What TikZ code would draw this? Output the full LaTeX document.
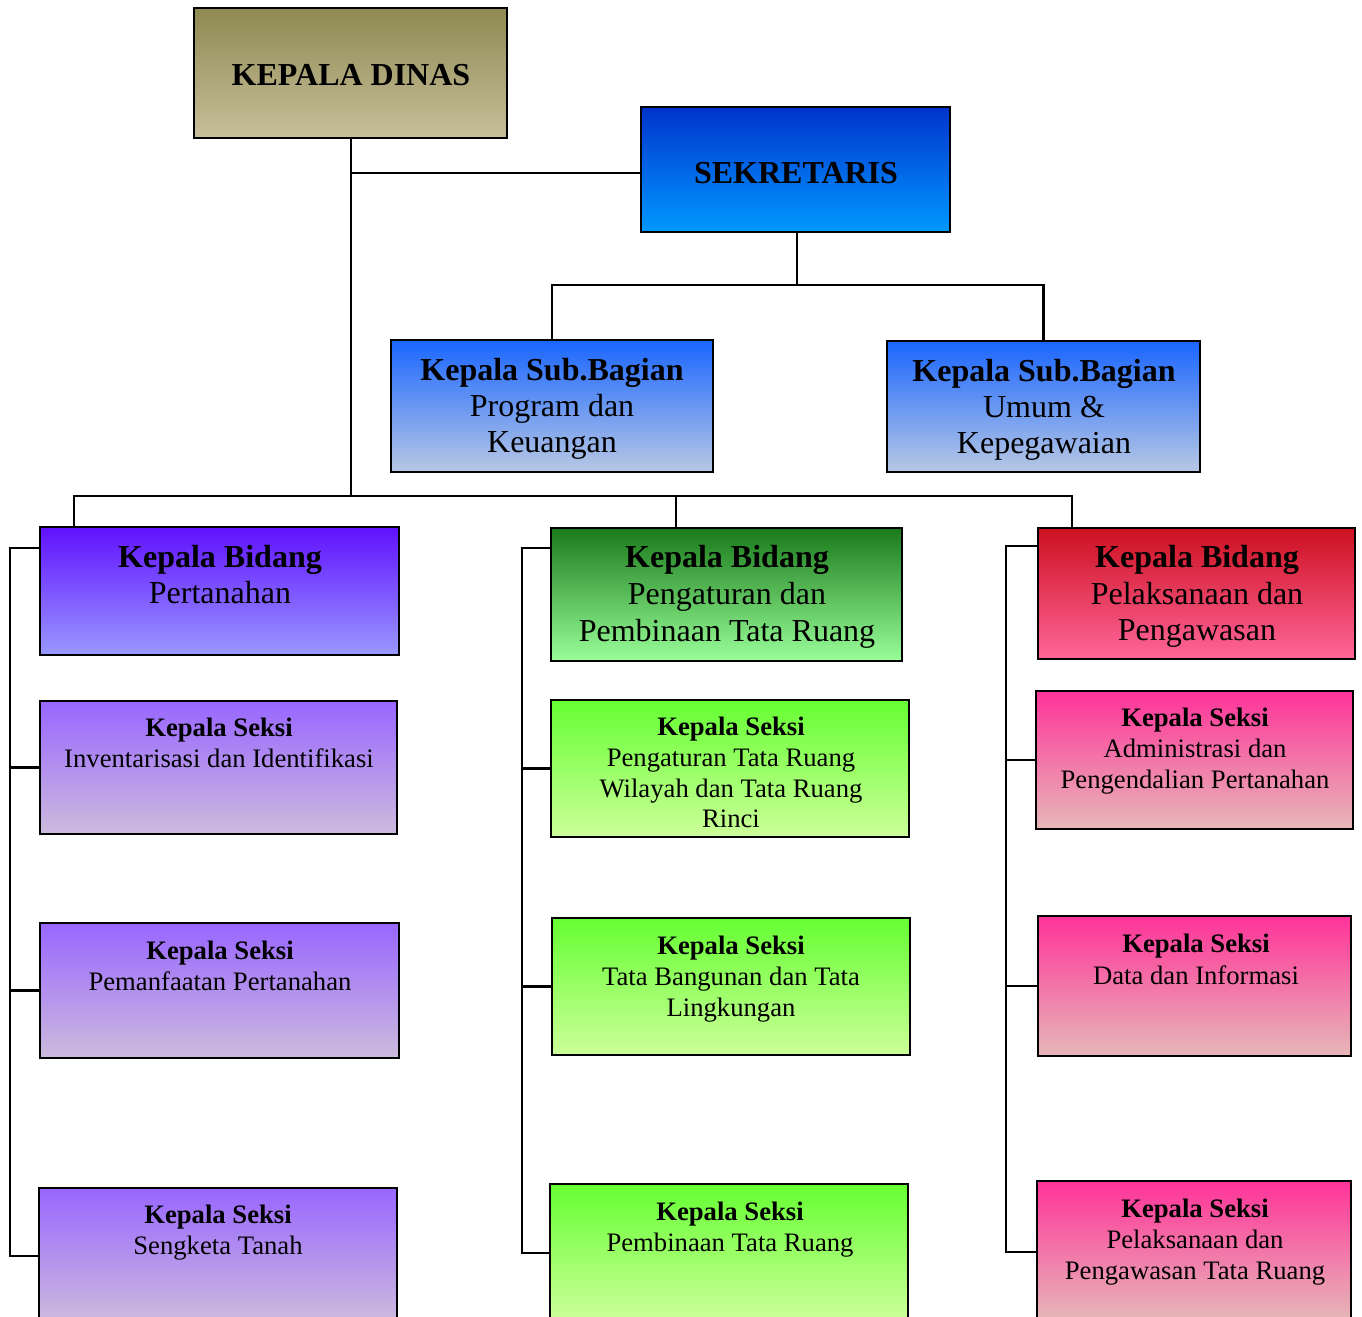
\documentclass[tikz,border=0pt]{standalone}
\usepackage{fontspec}
\setmainfont{Liberation Serif}
\usetikzlibrary{fit}
\definecolor{kdTop}{RGB}{143,137,82}
\definecolor{kdBot}{RGB}{199,191,154}
\definecolor{sekTop}{RGB}{0,51,204}
\definecolor{sekBot}{RGB}{0,153,255}
\definecolor{sbTop}{RGB}{26,102,255}
\definecolor{sbBot}{RGB}{184,200,228}
\definecolor{bATop}{RGB}{96,17,255}
\definecolor{bABot}{RGB}{153,153,255}
\definecolor{bBTop}{RGB}{26,122,26}
\definecolor{bBBot}{RGB}{153,255,153}
\definecolor{bCTop}{RGB}{204,16,32}
\definecolor{bCBot}{RGB}{255,102,153}
\definecolor{sATop}{RGB}{153,102,255}
\definecolor{sABot}{RGB}{204,187,221}
\definecolor{sBTop}{RGB}{102,255,51}
\definecolor{sBBot}{RGB}{204,255,153}
\definecolor{sCTop}{RGB}{255,51,153}
\definecolor{sCBot}{RGB}{230,184,184}
\tikzset{
  orgboxstyle/.style={draw=black, line width=1.6pt, inner sep=0pt, shading=axis},
  conn/.style={draw=black, line width=1.7pt},
  hd/.style={font=\fontsize{24}{28}\selectfont\bfseries, anchor=base, inner sep=0pt},
  tx/.style={font=\fontsize{24}{28}\selectfont, anchor=base, inner sep=0pt},
  shd/.style={font=\fontsize{20}{24}\selectfont\bfseries, anchor=base, inner sep=0pt},
  stx/.style={font=\fontsize{20}{24}\selectfont, anchor=base, inner sep=0pt},
}
\newcommand\orgbox[6]{%
  \coordinate (#1-nw) at (#2,#3);
  \coordinate (#1-se) at (#4,#5);
  \node[orgboxstyle, top color=#6Top, bottom color=#6Bot, fit=(#1-nw)(#1-se)] (#1) {};
}
\begin{document}
\begin{tikzpicture}[x=0.75pt,y=-0.75pt]
\useasboundingbox (0,0) rectangle (1362,1316);
\clip (0,0) rectangle (1362,1316);
\fill[white] (0,0) rectangle (1362,1316);

% boxes
\orgbox{kd}{194}{8}{507}{138}{kd}
\orgbox{sek}{641}{107}{950}{232}{sek}
\orgbox{sbA}{391}{340}{713}{472}{sb}
\orgbox{sbB}{887}{341}{1200}{472}{sb}
\orgbox{bA}{40}{527}{399}{655}{bA}
\orgbox{bB}{551}{528}{902}{661}{bB}
\orgbox{bC}{1038}{528}{1355}{659}{bC}
\orgbox{sAa}{40}{701}{397}{834}{sA}
\orgbox{sAb}{40}{923}{399}{1058}{sA}
\orgbox{sAc}{39}{1188}{397}{1322}{sA}
\orgbox{sBa}{551}{700}{909}{837}{sB}
\orgbox{sBb}{552}{918}{910}{1055}{sB}
\orgbox{sBc}{550}{1184}{908}{1320}{sB}
\orgbox{sCa}{1036}{691}{1353}{829}{sC}
\orgbox{sCb}{1038}{916}{1351}{1056}{sC}
\orgbox{sCc}{1037}{1181}{1351}{1320}{sC}

% connectors
\coordinate (jA) at (351,496);
\coordinate (jK) at (351,173);
\coordinate (jS) at (797,285);
\coordinate (bL) at (74,496);
\coordinate (bM) at (676,496);
\coordinate (bR) at (1072,496);
\draw[conn] (kd.south -| jA) -- (jA);
\draw[conn] (jK) -- (sek.west |- jK);
\draw[conn] (sek.south -| jS) -- (jS);
\draw[conn] (sbA.north) -- (sbA.north |- jS) -- (sbB.north |- jS) -- (sbB.north);
\draw[conn] (bL |- bA.north) -- (bL) -- (bR) -- (bR |- bC.north);
\draw[conn] (bM) -- (bM |- bB.north);

\coordinate (rAt) at (10,548);
\coordinate (rAb) at (10,1256);
\draw[conn] (bA.west |- rAt) -- (rAt) -- (rAb) -- (sAc.west |- rAb);
\draw[conn] (rAt |- sAa.west) -- (sAa.west);
\draw[conn] (rAt |- sAb.west) -- (sAb.west);

\coordinate (rBt) at (522,548);
\coordinate (rBb) at (522,1253);
\draw[conn] (bB.west |- rBt) -- (rBt) -- (rBb) -- (sBc.west |- rBb);
\draw[conn] (rBt |- sBa.west) -- (sBa.west);
\draw[conn] (rBt |- sBb.west) -- (sBb.west);

\coordinate (rCt) at (1006,546);
\coordinate (rCb) at (1006,1252);
\draw[conn] (bC.west |- rCt) -- (rCt) -- (rCb) -- (sCc.west |- rCb);
\draw[conn] (rCt |- sCa.west) -- (sCa.west);
\draw[conn] (rCt |- sCb.west) -- (sCb.west);

% texts
\node[hd] (kd-1) at (351,86) {KEPALA DINAS};
\node[hd] (sek-1) at (796,184) {SEKRETARIS};

\node[hd] (sbA-1) at (552,380) {Kepala Sub.Bagian};
\node[tx] (sbA-2) at (552,416) {Program dan};
\node[tx] (sbA-3) at (552,452) {Keuangan};

\node[hd] (sbB-1) at (1044,381) {Kepala Sub.Bagian};
\node[tx] (sbB-2) at (1044,417) {Umum \&};
\node[tx] (sbB-3) at (1044,453) {Kepegawaian};

\node[hd] (bA-1) at (220,567) {Kepala Bidang};
\node[tx] (bA-2) at (220,603) {Pertanahan};

\node[hd] (bB-1) at (727,567) {Kepala Bidang};
\node[tx] (bB-2) at (727,604) {Pengaturan dan};
\node[tx] (bB-3) at (727,641) {Pembinaan Tata Ruang};

\node[hd] (bC-1) at (1197,567) {Kepala Bidang};
\node[tx] (bC-2) at (1197,604) {Pelaksanaan dan};
\node[tx] (bC-3) at (1197,640) {Pengawasan};

\node[shd] (sAa-1) at (219,736) {Kepala Seksi};
\node[stx] (sAa-2) at (219,767) {Inventarisasi dan Identifikasi};

\node[shd] (sAb-1) at (220,959) {Kepala Seksi};
\node[stx] (sAb-2) at (220,990) {Pemanfaatan Pertanahan};

\node[shd] (sAc-1) at (218,1223) {Kepala Seksi};
\node[stx] (sAc-2) at (218,1254) {Sengketa Tanah};

\node[shd] (sBa-1) at (731,735) {Kepala Seksi};
\node[stx] (sBa-2) at (731,766) {Pengaturan Tata Ruang};
\node[stx] (sBa-3) at (731,797) {Wilayah dan Tata Ruang};
\node[stx] (sBa-4) at (731,827) {Rinci};

\node[shd] (sBb-1) at (731,954) {Kepala Seksi};
\node[stx] (sBb-2) at (731,985) {Tata Bangunan dan Tata};
\node[stx] (sBb-3) at (731,1016) {Lingkungan};

\node[shd] (sBc-1) at (730,1220) {Kepala Seksi};
\node[stx] (sBc-2) at (730,1251) {Pembinaan Tata Ruang};

\node[shd] (sCa-1) at (1195,726) {Kepala Seksi};
\node[stx] (sCa-2) at (1195,757) {Administrasi dan};
\node[stx] (sCa-3) at (1195,788) {Pengendalian Pertanahan};

\node[shd] (sCb-1) at (1196,952) {Kepala Seksi};
\node[stx] (sCb-2) at (1196,984) {Data dan Informasi};

\node[shd] (sCc-1) at (1195,1217) {Kepala Seksi};
\node[stx] (sCc-2) at (1195,1248) {Pelaksanaan dan};
\node[stx] (sCc-3) at (1195,1279) {Pengawasan Tata Ruang};
\end{tikzpicture}
\end{document}
